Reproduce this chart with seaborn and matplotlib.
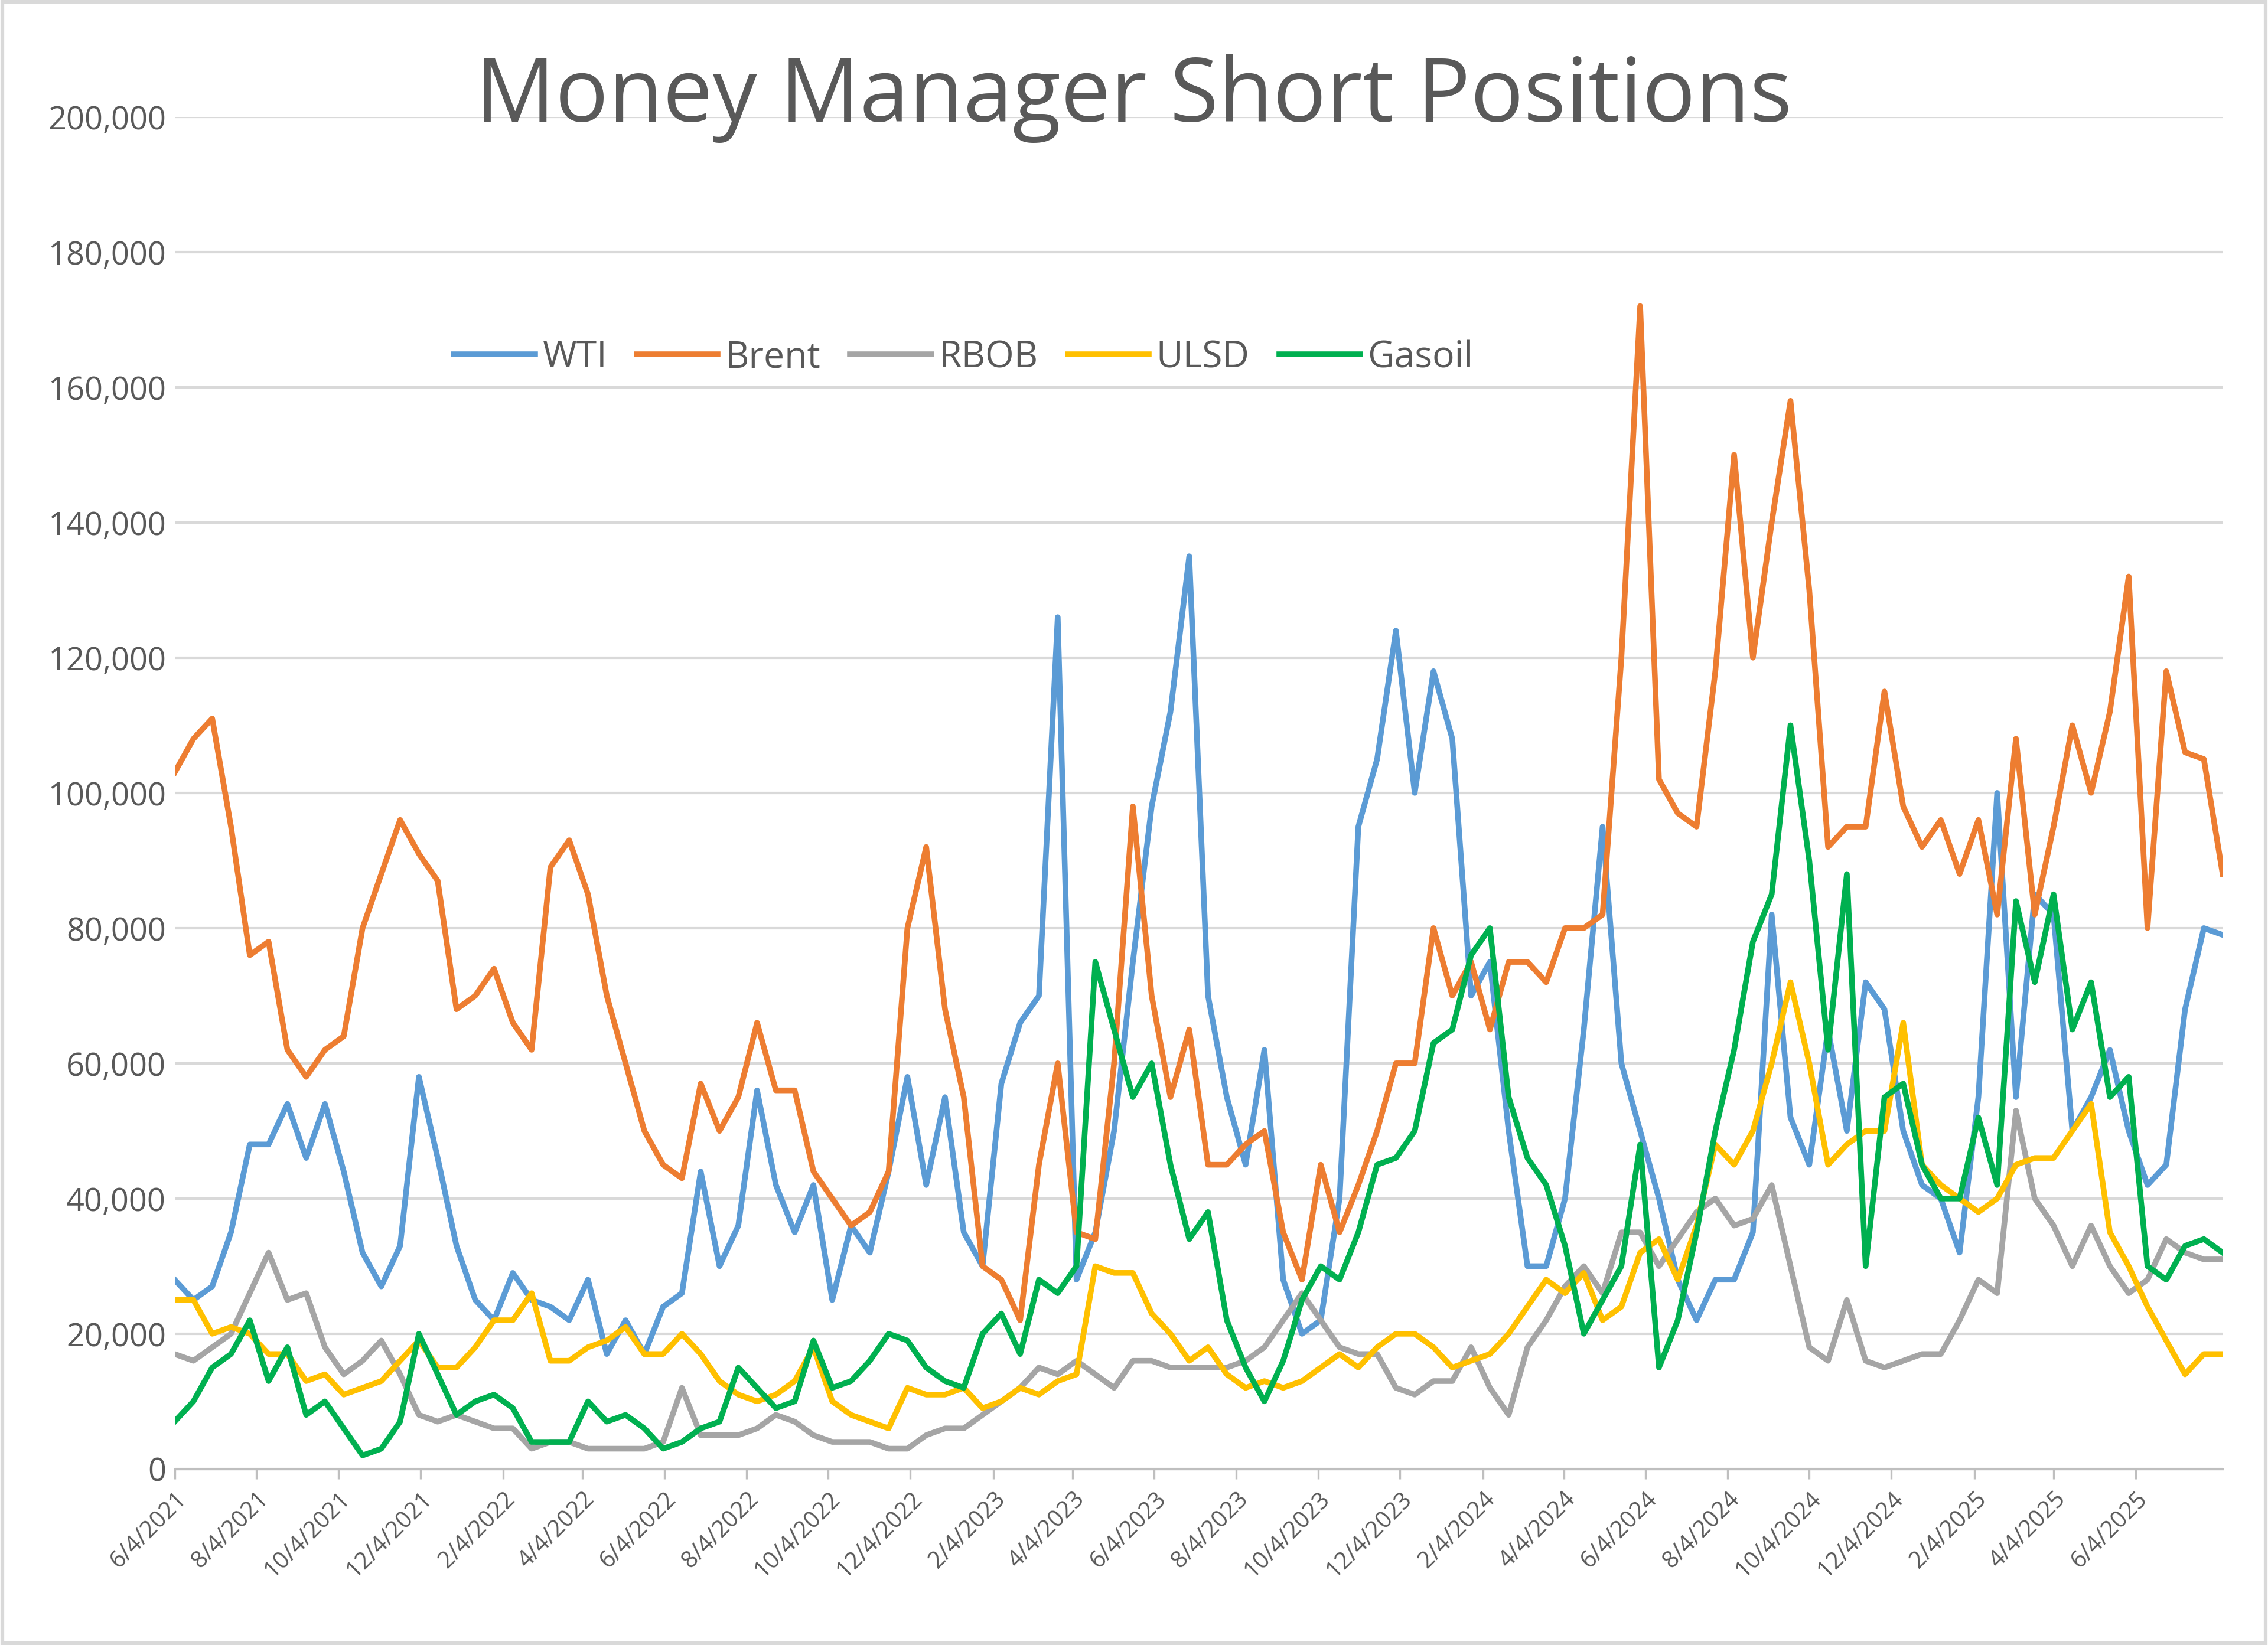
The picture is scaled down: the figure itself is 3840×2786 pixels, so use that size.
import matplotlib
matplotlib.use("Agg")
import matplotlib.pyplot as plt
import matplotlib.ticker as mticker
import seaborn as sns
import pandas as pd

plt.rcParams["font.family"] = "Open Sans"
start = "2021-06-04"
wti = [28,25,27,35,48,48,54,46,54,44,32,27,33,58,46,33,25,22,29,25,24,22,28,17,22,17,24,26,44,30,36,56,42,35,42,25,36,32,44,58,42,55,35,30,57,66,70,126,28,35,50,75,98,112,135,70,55,45,62,28,20,22,40,95,105,124,100,118,108,70,75,50,30,30,40,65,95,60,50,40,28,22,28,28,35,82,52,45,65,50,72,68,50,42,40,32,55,100,55,85,82,50,55,62,50,42,45,68,80,79]
brent = [103,108,111,95,76,78,62,58,62,64,80,88,96,91,87,68,70,74,66,62,89,93,85,70,60,50,45,43,57,50,55,66,56,56,44,40,36,38,44,80,92,68,55,30,28,22,45,60,35,34,60,98,70,55,65,45,45,48,50,35,28,45,35,42,50,60,60,80,70,75,65,75,75,72,80,80,82,120,172,102,97,95,118,150,120,140,158,130,92,95,95,115,98,92,96,88,96,82,108,82,95,110,100,112,132,80,118,106,105,88]
rbob = [17,16,18,20,26,32,25,26,18,14,16,19,14,8,7,8,7,6,6,3,4,4,3,3,3,3,4,12,5,5,5,6,8,7,5,4,4,4,3,3,5,6,6,8,10,12,15,14,16,14,12,16,16,15,15,15,15,16,18,22,26,22,18,17,17,12,11,13,13,18,12,8,18,22,27,30,26,35,35,30,34,38,40,36,37,42,30,18,16,25,16,15,16,17,17,22,28,26,53,40,36,30,36,30,26,28,34,32,31,31]
ulsd = [25,25,20,21,20,17,17,13,14,11,12,13,16,19,15,15,18,22,22,26,16,16,18,19,21,17,17,20,17,13,11,10,11,13,18,10,8,7,6,12,11,11,12,9,10,12,11,13,14,30,29,29,23,20,16,18,14,12,13,12,13,15,17,15,18,20,20,18,15,16,17,20,24,28,26,29,22,24,32,34,28,36,48,45,50,60,72,60,45,48,50,50,66,45,42,40,38,40,45,46,46,50,54,35,30,24,19,14,17,17]
gasoil = [7,10,15,17,22,13,18,8,10,6,2,3,7,20,14,8,10,11,9,4,4,4,10,7,8,6,3,4,6,7,15,12,9,10,19,12,13,16,20,19,15,13,12,20,23,17,28,26,30,75,65,55,60,45,34,38,22,15,10,16,25,30,28,35,45,46,50,63,65,76,80,55,46,42,33,20,25,30,48,15,22,35,50,62,78,85,110,90,62,88,30,55,57,45,40,40,52,42,84,72,85,65,72,55,58,30,28,33,34,32]

series = {"WTI": wti, "Brent": brent, "RBOB": rbob, "ULSD": ulsd, "Gasoil": gasoil}
colors = {"WTI": "#5B9BD5", "Brent": "#ED7D31", "RBOB": "#A5A5A5", "ULSD": "#FFC000", "Gasoil": "#00B050"}

frames = []
for name, vals in series.items():
    frames.append(pd.DataFrame({"date": pd.date_range(start, periods=len(vals), freq="14D"),
                                "value": [v * 1000 for v in vals], "series": name}))
df = pd.concat(frames)

fig = plt.figure(figsize=(12.8, 9.2867), dpi=300)
ax = fig.add_axes([0.077, 0.107, 0.903, 0.822])
sns.lineplot(data=df, x="date", y="value", hue="series", palette=colors, linewidth=2.3, ax=ax)

ax.set_ylim(0, 200000)
ax.set_xlim(pd.Timestamp(start), df["date"].max())
ax.yaxis.set_major_locator(mticker.MultipleLocator(20000))
ax.yaxis.set_major_formatter(mticker.FuncFormatter(lambda v, p: f"{int(v):,}"))
ax.grid(axis="y", color="#D9D9D9", linewidth=1)
ax.set_axisbelow(True)
ticks = pd.date_range("2021-06-01", "2025-06-30", freq="2MS") + pd.Timedelta(days=3)
ax.set_xticks(ticks)
ax.set_xticklabels([f"{d.month}/{d.day}/{d.year}" for d in ticks], rotation=45, ha="right",
                   rotation_mode="anchor", fontsize=9.5, color="#595959")
ax.tick_params(axis="y", labelsize=13, colors="#595959", length=0)
ax.tick_params(axis="x", length=4, color="#BFBFBF")
for s in ["top", "right", "left"]:
    ax.spines[s].set_visible(False)
ax.spines["bottom"].set_color("#BFBFBF")
ax.set_xlabel("")
ax.set_ylabel("")
leg = ax.legend(loc="upper left", bbox_to_anchor=(0.12, 0.86), ncol=5, frameon=False,
                fontsize=15, handlelength=2.2, columnspacing=0.8, handletextpad=0.2)
for t in leg.get_texts():
    t.set_color("#595959")
fig.text(0.5, 0.94, "Money Manager Short Positions", ha="center", va="center",
         fontsize=36, color="#595959")
fig.patches.append(plt.Rectangle((0.001, 0.001), 0.998, 0.998, transform=fig.transFigure,
                                 fill=False, edgecolor="#D9D9D9", linewidth=1.5))
fig.savefig("out.png", dpi=300, facecolor="white")
